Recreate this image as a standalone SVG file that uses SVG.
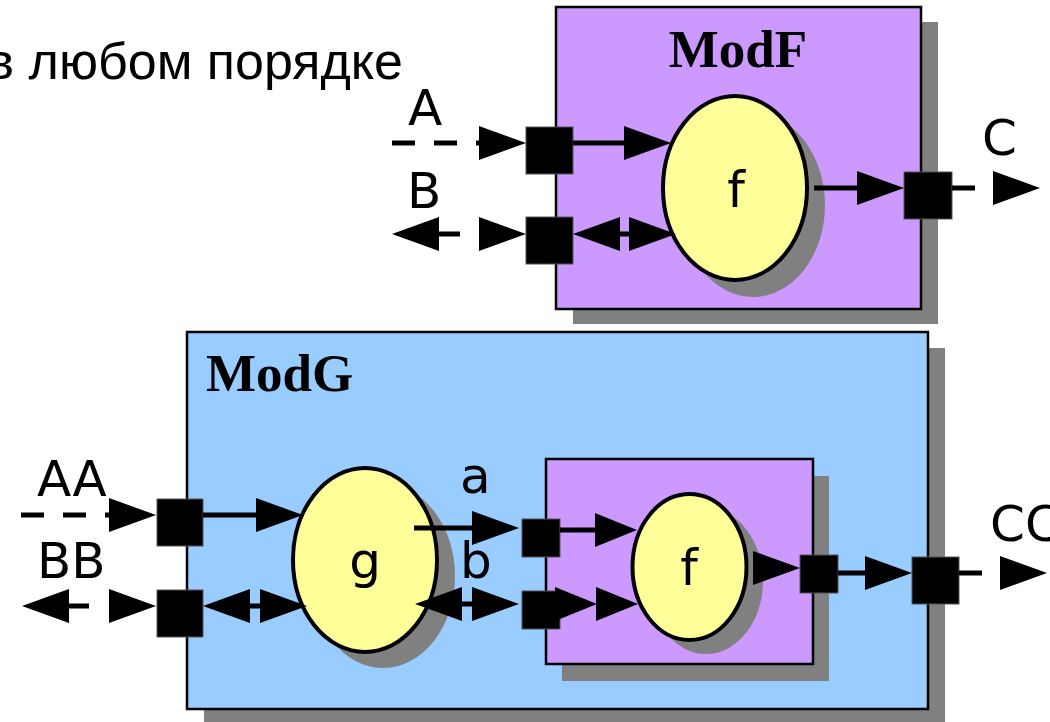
<svg xmlns="http://www.w3.org/2000/svg" xmlns:xlink="http://www.w3.org/1999/xlink" width="1050" height="722" viewBox="0 0 1050 722">
  <style>
    .shadow { fill: #808080; }
    .modf { fill: #CC99FF; stroke: #000; stroke-width: 2.5; }
    .modg { fill: #99CCFF; stroke: #000; stroke-width: 2.5; }
    .proc { fill: #FFFF99; stroke: #000; stroke-width: 4; }
    .port { fill: #000; stroke: #555; stroke-width: 1; }
    .title { font-family: "Liberation Serif", "Times New Roman", serif; font-weight: bold; font-size: 53px; fill: #000; }
    .lbl { font-family: "DejaVu Sans", Verdana, sans-serif; font-size: 50px; fill: #000; }
    .head { font-family: "Liberation Sans", Arial, sans-serif; font-size: 52px; fill: #000; }
    .wire { stroke: #000; stroke-width: 5; fill: none; }
    .dash { stroke-dasharray: 23 19; }
    .arrow { fill: #000; }
  </style>
  <defs>
    <!-- arrowhead pointing right, tip at the origin -->
    <path id="ah" d="M0,0 L-47,-17 L-47,17 Z"/>
    <path id="ahs" d="M0,0 L-42,-17 L-42,17 Z"/>
  </defs>

  <text class="head" x="403" y="79" text-anchor="end">в любом порядке</text>

  <!-- module ModF -->
  <g id="modF">
    <rect class="shadow" x="573" y="22" width="365" height="302"/>
    <rect class="modf" x="556" y="7" width="365" height="302"/>
    <text class="title" x="738" y="67" text-anchor="middle">ModF</text>
  </g>
  <g id="procF">
    <ellipse class="shadow" cx="753" cy="205" rx="72" ry="92"/>
    <ellipse class="proc" cx="735" cy="188" rx="72" ry="92"/>
    <text class="lbl" x="736" y="207" text-anchor="middle">f</text>
  </g>
  <g id="portA"><rect class="port" x="526" y="127" width="47" height="47"/></g>
  <g id="portB"><rect class="port" x="526" y="217" width="47" height="47"/></g>
  <g id="portC"><rect class="port" x="904" y="172" width="48" height="47"/></g>

  <!-- module ModG -->
  <g id="modG">
    <rect class="shadow" x="204" y="348" width="741" height="380"/>
    <rect class="modg" x="187" y="332" width="741" height="377"/>
    <text class="title" x="206" y="391">ModG</text>
  </g>
  <g id="procG">
    <ellipse class="shadow" cx="383" cy="576" rx="72" ry="92"/>
    <ellipse class="proc" cx="365" cy="560" rx="72" ry="92"/>
    <text class="lbl" x="365" y="578" text-anchor="middle">g</text>
  </g>
  <g id="modF-inner">
    <rect class="shadow" x="562" y="476" width="267" height="205"/>
    <rect class="modf" x="546" y="459" width="267" height="205"/>
  </g>
  <g id="procF-inner">
    <ellipse class="shadow" cx="706" cy="581" rx="57" ry="73"/>
    <ellipse class="proc" cx="689.5" cy="567" rx="57" ry="73"/>
    <text class="lbl" x="689" y="585" text-anchor="middle">f</text>
  </g>
  <g id="portAA"><rect class="port" x="157" y="499" width="46" height="47"/></g>
  <g id="portBB"><rect class="port" x="157" y="590" width="46" height="47"/></g>
  <g id="portCC"><rect class="port" x="912" y="557" width="47" height="47"/></g>
  <g id="port-a"><rect class="port" x="522" y="519" width="38" height="38"/></g>
  <g id="port-b"><rect class="port" x="522" y="591" width="38" height="38"/></g>
  <g id="port-out"><rect class="port" x="800" y="555" width="38" height="38"/></g>

  <!-- connectors -->
  <g id="connectors">
    <!-- ModF: A -->
    <line class="wire dash" x1="392" y1="143" x2="481" y2="143"/>
    <use xlink:href="#ah" class="arrow" transform="translate(526,143)"/>
    <line class="wire" x1="573" y1="143" x2="640" y2="143"/>
    <use xlink:href="#ah" class="arrow" transform="translate(671,143)"/>
    <!-- ModF: B -->
    <use xlink:href="#ah" class="arrow" transform="translate(392,234) rotate(180)"/>
    <line class="wire" x1="437" y1="234" x2="460" y2="234"/>
    <use xlink:href="#ah" class="arrow" transform="translate(526,234)"/>
    <use xlink:href="#ah" class="arrow" transform="translate(573,234) rotate(180)"/>
    <line class="wire" x1="618" y1="234" x2="632" y2="234"/>
    <use xlink:href="#ah" class="arrow" transform="translate(676,234)"/>
    <!-- ModF: C -->
    <line class="wire" x1="814" y1="188" x2="860" y2="188"/>
    <use xlink:href="#ah" class="arrow" transform="translate(904,188)"/>
    <line class="wire" x1="952" y1="188" x2="975" y2="188"/>
    <use xlink:href="#ah" class="arrow" transform="translate(1040,188)"/>

    <!-- ModG: AA -->
    <line class="wire dash" x1="21" y1="515" x2="110" y2="515"/>
    <use xlink:href="#ah" class="arrow" transform="translate(156,515)"/>
    <line class="wire" x1="203" y1="515" x2="270" y2="515"/>
    <use xlink:href="#ah" class="arrow" transform="translate(303,515)"/>
    <!-- ModG: BB -->
    <use xlink:href="#ah" class="arrow" transform="translate(22,606) rotate(180)"/>
    <line class="wire" x1="66" y1="606" x2="89" y2="606"/>
    <use xlink:href="#ah" class="arrow" transform="translate(156,606)"/>
    <use xlink:href="#ah" class="arrow" transform="translate(203,606) rotate(180)"/>
    <line class="wire" x1="248" y1="606" x2="262" y2="606"/>
    <use xlink:href="#ah" class="arrow" transform="translate(307,606)"/>
    <!-- g to f: a -->
    <line class="wire" x1="414" y1="528" x2="480" y2="528"/>
    <use xlink:href="#ah" class="arrow" transform="translate(519,528)"/>
    <line class="wire" x1="560" y1="530" x2="600" y2="530"/>
    <use xlink:href="#ahs" class="arrow" transform="translate(637,530)"/>
    <!-- g to f: b -->
    <use xlink:href="#ah" class="arrow" transform="translate(415,604) rotate(180)"/>
    <line class="wire" x1="460" y1="604" x2="474" y2="604"/>
    <use xlink:href="#ah" class="arrow" transform="translate(519,604)"/>
    <use xlink:href="#ahs" class="arrow" transform="translate(597,604)"/>
    <use xlink:href="#ahs" class="arrow" transform="translate(638,604)"/>
    <!-- f to CC -->
    <use xlink:href="#ah" class="arrow" transform="translate(800,568)"/>
    <line class="wire" x1="838" y1="573" x2="868" y2="573"/>
    <use xlink:href="#ah" class="arrow" transform="translate(912,573)"/>
    <line class="wire" x1="959" y1="573" x2="982" y2="573"/>
    <use xlink:href="#ah" class="arrow" transform="translate(1047,573)"/>

    <!-- wire labels -->
    <text class="lbl" x="408" y="125">A</text>
    <text class="lbl" x="407" y="208">B</text>
    <text class="lbl" x="982" y="155">C</text>
    <text class="lbl" x="37" y="496">AA</text>
    <text class="lbl" x="37" y="578">BB</text>
    <text class="lbl" x="990" y="541">CC</text>
    <text class="lbl" x="460" y="493">a</text>
    <text class="lbl" x="460" y="578">b</text>
  </g>
</svg>
